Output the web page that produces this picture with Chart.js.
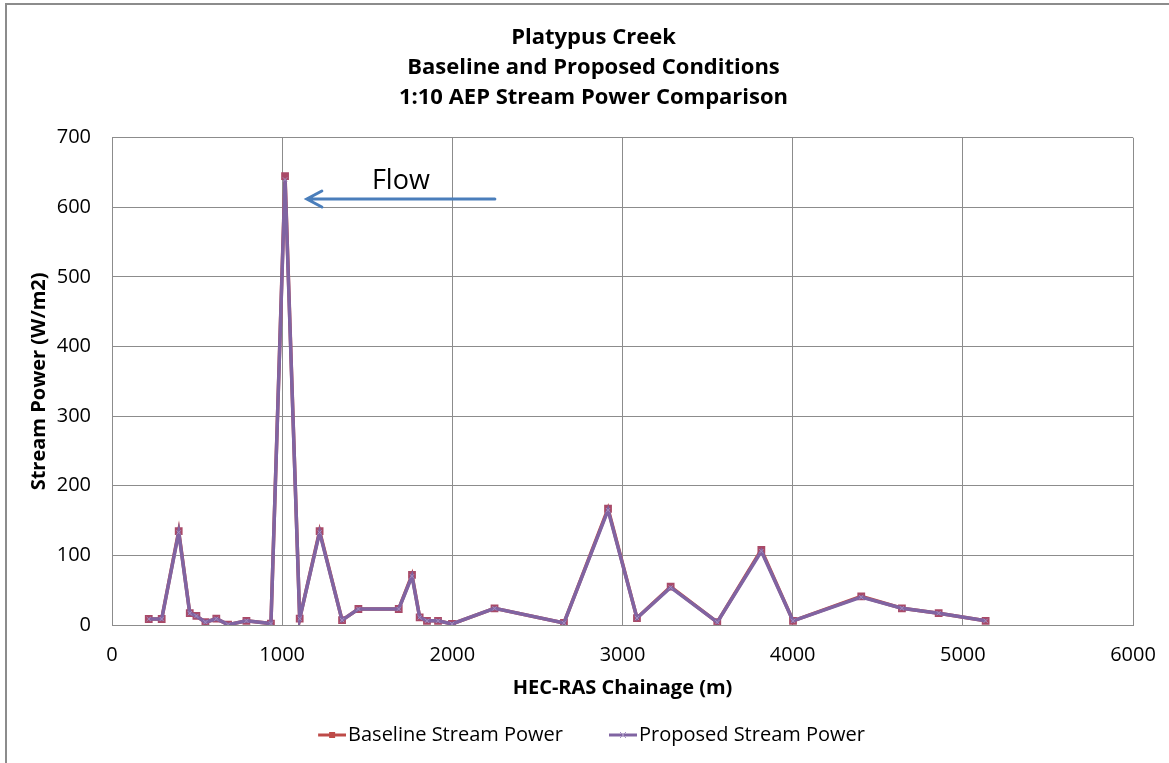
<!DOCTYPE html>
<html>
<head>
<meta charset="utf-8">
<script src="https://cdn.jsdelivr.net/npm/chart.js@4.4.0/dist/chart.umd.min.js"></script>
<style>
  html, body { margin: 0; padding: 0; background: #fff; overflow: hidden; }
  #frame { position: absolute; left: 5px; top: 3px; width: 1200px; height: 800px;
           border-left: 2px solid #8c8c8c; border-top: 2px solid #8c8c8c; }
  #wrap { position: absolute; left: 0; top: 0; width: 1169px; height: 763px; }
</style>
</head>
<body>
<div id="frame"></div>
<div id="wrap"><canvas id="chart" width="1169" height="763"></canvas></div>
<script>
// Chainage (m) of each HEC-RAS cross section
const chainage = [216, 292, 392, 457, 496, 549, 613, 682, 790, 934,
                  1017, 1103, 1220, 1352, 1448, 1685, 1763, 1808, 1851, 1916,
                  1998, 2248, 2656, 2915, 3085, 3283, 3557, 3816, 4002, 4403,
                  4642, 4858, 5134];
// Stream power (W/m2)
const baseline = [8.6, 8.6, 135, 17, 13, 4, 9, 0.5, 6, 2,
                  645, 9, 135, 7, 23, 23, 72, 11, 6, 6,
                  1.5, 24, 3, 167, 10, 55, 4, 108, 6, 41,
                  24, 17, 6];
const proposed = [8.6, 8.6, 133, 17, 13, 4, 9, 0.5, 6, 2,
                  640, 9, 133, 7, 23, 23, 70, 11, 6, 6,
                  1.5, 24, 3, 165, 10, 54, 4, 106, 6, 40,
                  24, 17, 6];

const titleLines = ['Platypus Creek', 'Baseline and Proposed Conditions', '1:10 AEP Stream Power Comparison'];
const xTicks = [0, 1000, 2000, 3000, 4000, 5000, 6000];
const yTicks = [0, 100, 200, 300, 400, 500, 600, 700];

// Flow arrow annotation (in data units)
const flowLabel = 'Flow';
const flowFrom = 2250;
const flowTo = 1145;
const flowLevel = 612;
const flowTextLevel = 638;

const redCol = '#be4b48';
const purpleCol = '#8064a2';
const gridCol = '#8c8c8c';
const fontFam = '"Open Sans", "Liberation Sans", sans-serif';

const toXY = arr => arr.map((v, i) => ({ x: chainage[i], y: v }));

// legend swatch: transparent gap on the left, then a short line with the marker
function swatch(color, marker) {
    const c = document.createElement('canvas');
    c.width = 62; c.height = 12;
    const g = c.getContext('2d');
    g.strokeStyle = color;
    g.lineWidth = 3;
    g.beginPath(); g.moveTo(34, 6); g.lineTo(62, 6); g.stroke();
    if (marker === 'rect') {
        g.fillStyle = color;
        g.fillRect(45, 3, 6, 6);
    } else {
        g.lineWidth = 1;
        g.strokeStyle = '#a48fc0';
        g.beginPath();
        g.moveTo(45, 3); g.lineTo(51, 9);
        g.moveTo(51, 3); g.lineTo(45, 9);
        g.stroke();
    }
    return c;
}

// title and legend in the original are centred on the whole chart object, a bit right of ours
const shiftBoxes = {
    id: 'shiftBoxes',
    afterLayout(chart) {
        chart.titleBlock.left += 27;
        chart.titleBlock.right += 27;
        chart.legend.left += 12;
        chart.legend.right += 12;
    }
};

const flowArrow = {
    id: 'flowArrow',
    afterDatasetsDraw(chart) {
        const ctx = chart.ctx;
        const xs = chart.scales.x, ys = chart.scales.y;
        const x1 = xs.getPixelForValue(flowFrom);
        const x2 = xs.getPixelForValue(flowTo);
        const y = ys.getPixelForValue(flowLevel);
        ctx.save();
        ctx.strokeStyle = '#4a7ebb';
        ctx.lineWidth = 3;
        ctx.lineCap = 'round';
        ctx.beginPath();
        ctx.moveTo(x1, y); ctx.lineTo(x2, y);
        ctx.moveTo(x2 + 15, y - 8); ctx.lineTo(x2, y); ctx.lineTo(x2 + 15, y + 8);
        ctx.stroke();
        ctx.fillStyle = '#000';
        ctx.font = '27px ' + fontFam;
        ctx.textAlign = 'center';
        ctx.textBaseline = 'middle';
        ctx.fillText(flowLabel, (x1 + x2) / 2, ys.getPixelForValue(flowTextLevel));
        ctx.restore();
    }
};

new Chart(document.getElementById('chart'), {
    type: 'line',
    data: {
        datasets: [
            {
                label: 'Baseline Stream Power',
                data: toXY(baseline),
                borderColor: redCol,
                backgroundColor: redCol,
                borderWidth: 3.5,
                pointStyle: 'rect',
                pointRadius: 5.5,
                pointBorderWidth: 0,
                pointBackgroundColor: '#a94a68',
                tension: 0,
                order: 2
            },
            {
                label: 'Proposed Stream Power',
                data: toXY(proposed),
                borderColor: purpleCol,
                backgroundColor: purpleCol,
                borderWidth: 3.5,
                pointStyle: 'crossRot',
                pointRadius: 3,
                pointBorderWidth: 1,
                pointBorderColor: '#a48fc0',
                tension: 0,
                order: 1
            }
        ]
    },
    options: {
        responsive: false,
        animation: false,
        layout: { padding: { left: 0, right: 36, top: 0, bottom: 8 } },
        plugins: {
            title: {
                display: true,
                text: titleLines,
                color: '#000',
                font: { family: fontFam, size: 22, weight: 'bold', lineHeight: 1.36 },
                padding: { top: 23, bottom: 25 }
            },
            legend: {
                position: 'bottom',
                labels: {
                    color: '#000',
                    font: { family: fontFam, size: 20 },
                    usePointStyle: true,
                    pointStyleWidth: 46,
                    padding: 20,
                    generateLabels(chart) {
                        return chart.data.datasets.map((ds, i) => ({
                            text: ds.label,
                            datasetIndex: i,
                            pointStyle: swatch(ds.borderColor, ds.pointStyle),
                            fillStyle: ds.borderColor,
                            strokeStyle: ds.borderColor,
                            lineWidth: 0,
                            hidden: false
                        }));
                    }
                }
            },
            tooltip: { enabled: false }
        },
        scales: {
            x: {
                type: 'linear',
                min: 0,
                max: 6000,
                afterBuildTicks(scale) { scale.ticks = xTicks.map(v => ({ value: v })); },
                afterFit(scale) {
                    scale.height = 80;
                    scale.paddingLeft = 0;
                    scale.paddingRight = 0;
                },
                grid: { color: gridCol, lineWidth: 1, drawTicks: false },
                border: { color: gridCol, width: 1 },
                ticks: {
                    color: '#000', font: { family: fontFam, size: 20 }, padding: 18, maxRotation: 0,
                    callback: v => String(v)
                },
                title: {
                    display: true,
                    text: 'HEC-RAS Chainage (m)',
                    color: '#000',
                    font: { family: fontFam, size: 20, weight: 'bold' },
                    padding: { top: 4, bottom: 5 }
                }
            },
            y: {
                min: 0,
                max: 700,
                afterBuildTicks(scale) { scale.ticks = yTicks.map(v => ({ value: v })); },
                afterFit(scale) { scale.width = 112; },
                grid: { color: gridCol, lineWidth: 1, drawTicks: false },
                border: { color: gridCol, width: 1 },
                ticks: { color: '#000', font: { family: fontFam, size: 20 }, padding: 21 },
                title: {
                    display: true,
                    text: 'Stream Power (W/m2)',
                    color: '#000',
                    font: { family: fontFam, size: 20, weight: 'bold' },
                    padding: { top: 27 }
                }
            }
        }
    },
    plugins: [shiftBoxes, flowArrow]
});
</script>
</body>
</html>
